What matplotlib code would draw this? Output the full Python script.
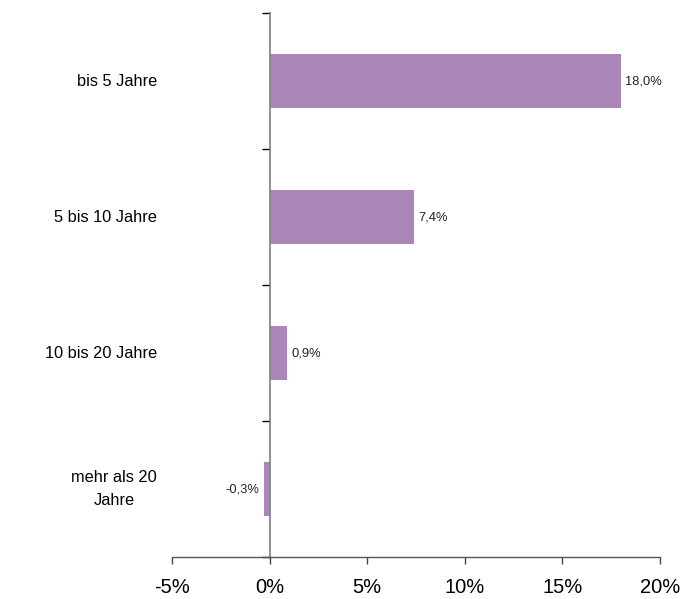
import matplotlib
matplotlib.use("Agg")
import matplotlib.pyplot as plt
import matplotlib.transforms as mtransforms
from matplotlib.ticker import FixedLocator, FuncFormatter

categories = ["bis 5 Jahre", "5 bis 10 Jahre", "10 bis 20 Jahre", "mehr als 20\nJahre"]
values = [18.0, 7.4, 0.9, -0.3]
x_ticks = [-5, 0, 5, 10, 15, 20]

plt.rcParams["font.family"] = ["Liberation Sans", "DejaVu Sans"]

fig = plt.figure(figsize=(6.82, 5.99), dpi=100)
ax = fig.add_axes([172 / 682, 1 - 557 / 599, 488 / 682, (557 - 13) / 599])

ypos = list(range(len(categories)))
ax.barh(ypos, values, height=0.4, color="#ab87b9", zorder=2)

for y, v in zip(ypos, values):
    label = f"{v:.1f}%".replace(".", ",")
    if v >= 0:
        ax.annotate(label, (v, y), xytext=(3, 0), textcoords="offset points",
                    ha="left", va="center", fontsize=9.3, color="#222222")
    else:
        ax.annotate(label, (v, y), xytext=(-3, 0), textcoords="offset points",
                    ha="right", va="center", fontsize=9.3, color="#222222")

ax.set_xlim(-5, 20)
ax.set_ylim(len(categories) - 0.5, -0.5)

ax.set_xticks(x_ticks)
ax.xaxis.set_major_formatter(FuncFormatter(lambda v, p: f"{v:.0f}%"))
ax.tick_params(axis="x", direction="out", length=5, width=1, color="#444444",
               labelsize=14.5, pad=10)

# category labels, placed just left of the plotting area
ax.set_yticks(ypos)
ax.tick_params(axis="y", which="major", left=False, right=False,
               labelleft=False, labelright=False)
label_tf = mtransforms.blended_transform_factory(ax.transAxes, ax.transData) + \
    mtransforms.ScaledTranslation(-15 / 100, 0, fig.dpi_scale_trans)
for y, cat in zip(ypos, categories):
    ax.text(0, y, cat, transform=label_tf, ha="right", va="center",
            multialignment="center", fontsize=11.8, color="black",
            linespacing=1.6)

ax.yaxis.set_minor_locator(FixedLocator([i - 0.5 for i in range(len(categories) + 1)]))
ax.tick_params(axis="y", which="minor", left=False, right=True, direction="in",
               length=6, width=1, color="black")

for s in ["top", "left"]:
    ax.spines[s].set_visible(False)
ax.spines["right"].set_position(("data", 0))
ax.spines["right"].set_color("#7f7f7f")
ax.spines["right"].set_linewidth(1.2)
ax.spines["bottom"].set_color("#555555")
ax.spines["bottom"].set_linewidth(1)

fig.savefig("out.png", dpi=100)
